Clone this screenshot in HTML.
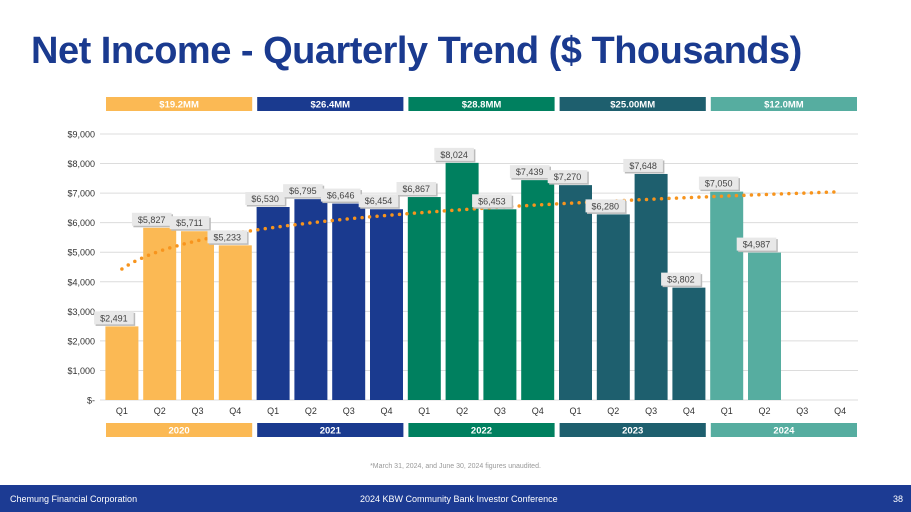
<!DOCTYPE html>
<html><head><meta charset="utf-8"><style>
body{margin:0;width:911px;height:512px;overflow:hidden;background:#fff;font-family:"Liberation Sans",sans-serif;position:relative}
.title{position:absolute;left:31px;top:30px;font-size:38px;font-weight:bold;color:#1a3a8f;letter-spacing:-0.5px}
.footer{position:absolute;left:0;top:485px;width:911px;height:27px;background:#1c3b93;color:#fff;font-size:9px}
.footer span{position:absolute;top:9px}
.note{position:absolute;top:463px;left:0;width:911px;text-align:center;font-size:7px;color:#999}
</style></head><body>
<div class="title">Net Income - Quarterly Trend ($ Thousands)</div>
<svg id="chart" width="911" height="512" style="position:absolute;left:0;top:0"></svg>
<div class="note">*March 31, 2024, and June 30, 2024 figures unaudited.</div>
<div class="footer">
<span style="left:10px">Chemung Financial Corporation</span>
<span style="left:360px">2024 KBW Community Bank Investor Conference</span>
<span style="left:893px">38</span>
</div>
<script>
const quarters=["Q1","Q2","Q3","Q4","Q1","Q2","Q3","Q4","Q1","Q2","Q3","Q4","Q1","Q2","Q3","Q4","Q1","Q2","Q3","Q4"];
const values=[2491,5827,5711,5233,6530,6795,6646,6454,6867,8024,6453,7439,7270,6280,7648,3802,7050,4987];
const years=["2020","2021","2022","2023","2024"];
const yearTotals=["$19.2MM","$26.4MM","$28.8MM","$25.00MM","$12.0MM"];
const yearColors=["#fbb954","#1a3a8f","#00805f","#1e5f6e","#56ada0"];
const yTicks=[0,1000,2000,3000,4000,5000,6000,7000,8000,9000];
const NS="http://www.w3.org/2000/svg";
const svg=document.getElementById('chart');
const x0=103,slot=37.8,y0=400,yTop=134;
const X=i=>x0+slot*i+slot/2;
const Y=v=>y0-(v/9000)*(y0-yTop);
function el(t,a,p){const e=document.createElementNS(NS,t);for(const k in a)e.setAttribute(k,a[k]);(p||svg).appendChild(e);return e;}
function fmt(v){return v===0?"$-":"$"+v.toLocaleString('en-US');}
yTicks.forEach(v=>{
  const l=el('line',{x1:100,x2:858,y1:Y(v),y2:Y(v),stroke:'#dcdcdc','stroke-width':1});
  
  
  const t=el('text',{x:95,y:Y(v)+3.5,'text-anchor':'end','font-size':9,fill:'#333'});
  t.textContent=fmt(v);
  
  
});
values.forEach((v,i)=>{
  const r=el('rect',{x:X(i)-16.5,y:Y(v),width:33,height:y0-Y(v),fill:yearColors[Math.floor(i/4)]});
  
  
});
quarters.forEach((q,i)=>{
  const t=el('text',{x:X(i),y:414,'text-anchor':'middle','font-size':9,fill:'#333'});
  t.textContent=q;
  
  
});
years.forEach((yr,k)=>{
  const bx=x0+slot*4*k+3,bw=slot*4-5;
  [[97,yearTotals[k],'year-total'],[423,yr,'year-label']].forEach(([yy,txt,nm])=>{
    const r=el('rect',{x:bx,y:yy,width:bw,height:14,fill:yearColors[k]});
    
    
    const t=el('text',{x:bx+bw/2,y:yy+10.5,'text-anchor':'middle','font-size':9.5,'font-weight':'bold',fill:'#fff'});
    t.textContent=txt;
    
    
  });
});
// log trend
let n=values.length,sx=0,sy=0,sxx=0,sxy=0;
values.forEach((v,i)=>{const l=Math.log(i+1);sx+=l;sy+=v;sxx+=l*l;sxy+=l*v;});
const b=(n*sxy-sx*sy)/(n*sxx-sx*sx),a=(sy-b*sx)/n;
let pts=[];for(let t=0;t<=19;t+=0.05)pts.push(X(t)+','+Y(a+b*Math.log(t+1)));
const tl=el('polyline',{points:pts.join(' '),fill:'none',stroke:'#f7941d','stroke-width':3.5,'stroke-dasharray':'0 7.5','stroke-linecap':'round'});


values.forEach((v,i)=>{
  const s=fmt(v),w=s.length*5.6+6,cx=X(i)-8,cy=Y(v)-15;
  const g=el('g',{});
  
  
  el('rect',{x:cx-w/2+1.5,y:cy+1.5,width:w,height:13,fill:'#bbb'},g);
  el('rect',{x:cx-w/2,y:cy,width:w,height:13,fill:'#e8e8e8'},g);
  const t=el('text',{x:cx,y:cy+10,'text-anchor':'middle','font-size':9,fill:'#444'},g);
  t.textContent=s;
});
</script>
</body></html>
